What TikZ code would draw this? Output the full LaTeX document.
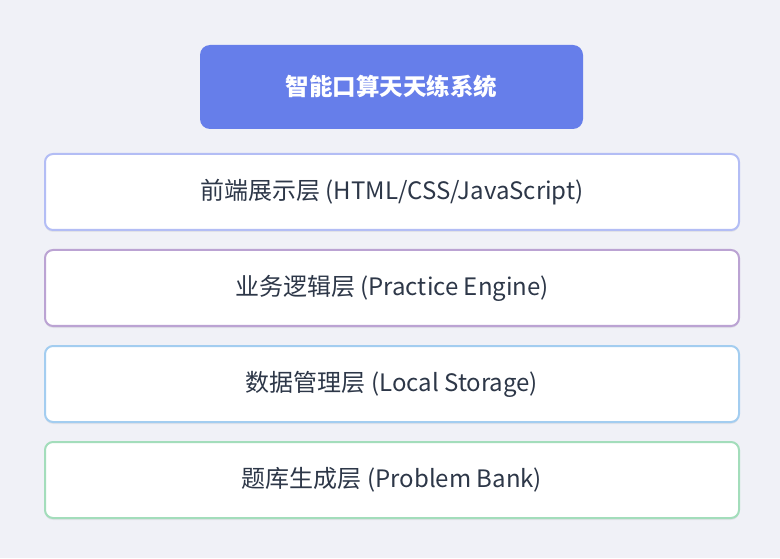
\documentclass[tikz,border=0pt]{standalone}
\usepackage{fontspec}
\setmainfont{Noto Sans CJK SC}
\usetikzlibrary{shadows}
\definecolor{bgc}{HTML}{F0F1F7}
\definecolor{titlec}{HTML}{667EEA}
\definecolor{txtc}{HTML}{2D3748}
\definecolor{bA}{HTML}{B3BDF5}
\definecolor{bB}{HTML}{BBA3D3}
\definecolor{bC}{HTML}{A3CDF0}
\definecolor{bD}{HTML}{A3DDBB}
\newcommand\lowered[1]{\raisebox{-1.5pt}{#1}}
\tikzset{
  layerbox/.style={draw=#1, line width=2pt, fill=white, rounded corners=8pt,
    minimum width=694pt, minimum height=76pt, inner sep=0pt,
    text=txtc, font=\fontsize{24}{28}\selectfont,
    drop shadow={shadow xshift=0pt, shadow yshift=-2pt, opacity=0.06, fill=black}},
  titlebox/.style={fill=titlec, rounded corners=10pt, minimum width=383pt,
    minimum height=84pt, inner sep=0pt, text=white,
    font=\fontsize{23.5}{28}\selectfont\bfseries}
}
\begin{document}
\begin{tikzpicture}[x=1pt,y=1pt]
\fill[bgc] (0,0) rectangle (780,558);
\useasboundingbox (0,0) rectangle (780,558);
\node[titlebox] (title) at (391.5,471) {\lowered{智能口算天天练系统}};
\node[layerbox=bA] (l1) at (392,366) {\lowered{前端展示层 (HTML/CSS/JavaScript)}};
\node[layerbox=bB] (l2) at (392,270) {\lowered{业务逻辑层 (Practice Engine)}};
\node[layerbox=bC] (l3) at (392,174) {\lowered{数据管理层 (Local Storage)}};
\node[layerbox=bD] (l4) at (392,78) {\lowered{题库生成层 (Problem Bank)}};
\end{tikzpicture}
\end{document}
